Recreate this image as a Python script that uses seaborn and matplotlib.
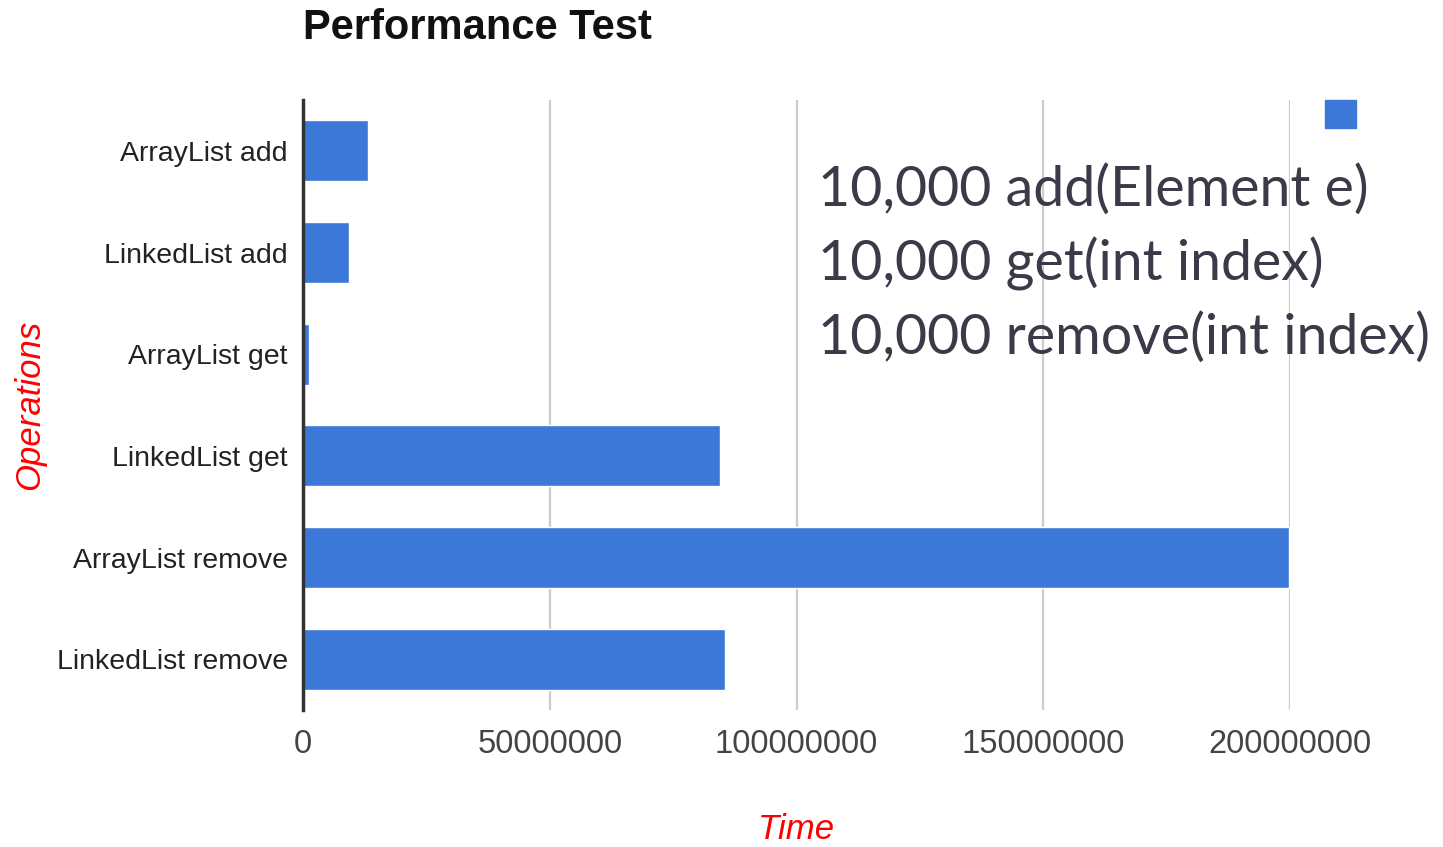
import matplotlib
matplotlib.use('Agg')
import matplotlib.pyplot as plt
import seaborn as sns
import pandas as pd
from matplotlib.patches import Patch

# values
operations = ['ArrayList add', 'LinkedList add', 'ArrayList get',
              'LinkedList get', 'ArrayList remove', 'LinkedList remove']
times = [13200000, 9300000, 1200000, 84400000, 199700000, 85600000]
x_ticks = [0, 50000000, 100000000, 150000000, 200000000]
notes = ['10,000 add(Element e)', '10,000 get(int index)', '10,000 remove(int index)']

df = pd.DataFrame({'Operations': operations, 'Time': times})

sns.set_style('white')
plt.rcParams['font.family'] = ['Liberation Sans', 'DejaVu Sans']

fig = plt.figure(figsize=(14.43, 8.47), dpi=100)
ax = fig.add_axes([303/1443, 1-710/847, (1290-303)/1443, 610/847])

bar_color = '#3c78d8'
sns.barplot(data=df, x='Time', y='Operations', orient='h', color=bar_color,
            width=0.6, saturation=1, ax=ax, zorder=3)

ax.set_xlim(0, 200000000)
ax.set_ylim(5.5, -0.5)
ax.set_xticks(x_ticks)
ax.set_xticklabels([str(t) for t in x_ticks], fontsize=23.5, color='#444444')
ax.tick_params(axis='y', labelsize=20.5, labelcolor='#222222', length=0, pad=11)
ax.tick_params(axis='x', length=0, pad=14)
ax.xaxis.grid(True, color='#cccccc', linewidth=1.6, zorder=0)
ax.yaxis.grid(False)
for side in ['top', 'right', 'bottom']:
    ax.spines[side].set_visible(False)
ax.spines['left'].set_color('#333333')
ax.spines['left'].set_linewidth(2.5)
ax.spines['left'].set_zorder(5)

ax.set_xlabel('Time', fontsize=25, color='red', style='italic')
ax.xaxis.set_label_coords(0.5, (710-813)/610)
ax.set_ylabel('Operations', fontsize=25, color='red', style='italic')
ax.yaxis.set_label_coords((46-303)/987, 0.5)

fig.text(303/1443, 1-28/847, 'Performance Test', fontsize=30, fontweight='bold',
         ha='left', va='center', color='#111111')

# legend box with no label
fig.legend(handles=[Patch(color=bar_color)], labels=[' '], loc='upper left',
           bbox_to_anchor=(1310/1443, 1-85/847), frameon=False, fontsize=22,
           handlelength=1.0, handleheight=1.0, borderpad=0, handletextpad=0.2)

for i, line in enumerate(notes):
    fig.text(818/1443, 1-(190 + i*74)/847, line, fontsize=40, color='#3a3a48',
             ha='left', va='center', family=['Lato', 'DejaVu Sans'])

fig.savefig('out.png', dpi=100)
